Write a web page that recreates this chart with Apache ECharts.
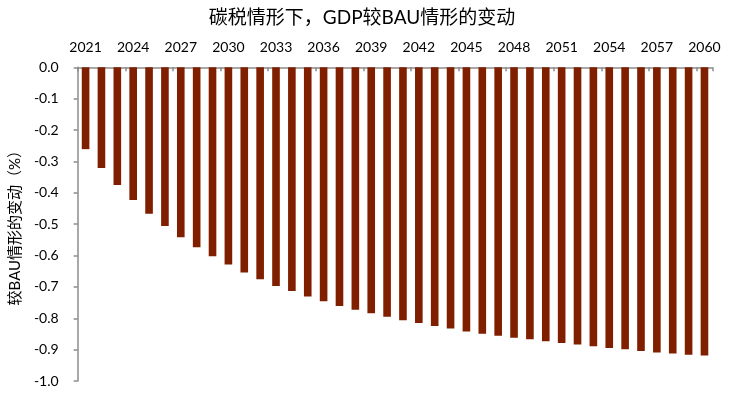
<!DOCTYPE html>
<html>
<head>
<meta charset="utf-8">
<script src="https://cdn.jsdelivr.net/npm/echarts@6/dist/echarts.min.js"></script>
<style>html,body{margin:0;padding:0;background:#fff}#c{width:731px;height:409px}</style>
</head>
<body>
<div id="c"></div>
<script>
const years = [];
for (let y = 2021; y <= 2060; y++) years.push(String(y));
const gdpChange = [
  -0.261, -0.321, -0.375, -0.423, -0.467, -0.506, -0.542, -0.574, -0.602, -0.629,
  -0.654, -0.676, -0.697, -0.713, -0.731, -0.746, -0.761, -0.773, -0.784, -0.795,
  -0.806, -0.815, -0.825, -0.833, -0.842, -0.849, -0.856, -0.862, -0.867, -0.873,
  -0.879, -0.884, -0.889, -0.895, -0.899, -0.904, -0.909, -0.912, -0.916, -0.919
];
const titleText = '碳税情形下，GDP较BAU情形的变动';
const yName = '较BAU情形的变动（%）';
const FONT = 'Lato, "Noto Sans CJK SC", sans-serif';

const chart = echarts.init(document.getElementById('c'));
chart.setOption({
  animation: false,
  title: {
    text: titleText,
    left: 357, top: 3, textAlign: 'center',
    textStyle: {fontFamily: FONT, fontSize: 19, fontWeight: 'normal', color: '#000'}
  },
  grid: {left: 77.6, right: 18.6, top: 67.3, bottom: 28, containLabel: false},
  xAxis: {
    type: 'category', data: years, position: 'top',
    axisLine: {lineStyle: {color: '#8c8c8c', width: 1.5}},
    axisTick: {show: true, inside: true, interval: 2, length: 4, lineStyle: {color: '#8c8c8c', width: 1.5}},
    axisLabel: {interval: 2, color: '#000', fontFamily: FONT, fontSize: 14, margin: 13}
  },
  yAxis: {
    type: 'value', min: -1, max: 0, interval: 0.1,
    name: yName, nameLocation: 'middle', nameGap: 52, nameRotate: 90,
    nameTextStyle: {fontFamily: FONT, fontSize: 15, color: '#000'},
    axisLine: {show: true, lineStyle: {color: '#8c8c8c', width: 1.5}},
    axisTick: {show: true, length: 4, lineStyle: {color: '#8c8c8c', width: 1.5}},
    splitLine: {show: false},
    axisLabel: {color: '#000', fontFamily: FONT, fontSize: 14, margin: 19,
      formatter: v => v.toFixed(1)}
  },
  series: [{
    type: 'bar', data: gdpChange, barWidth: '48%',
    itemStyle: {color: '#7f1f00'}
  }]
});
</script>
</body>
</html>
